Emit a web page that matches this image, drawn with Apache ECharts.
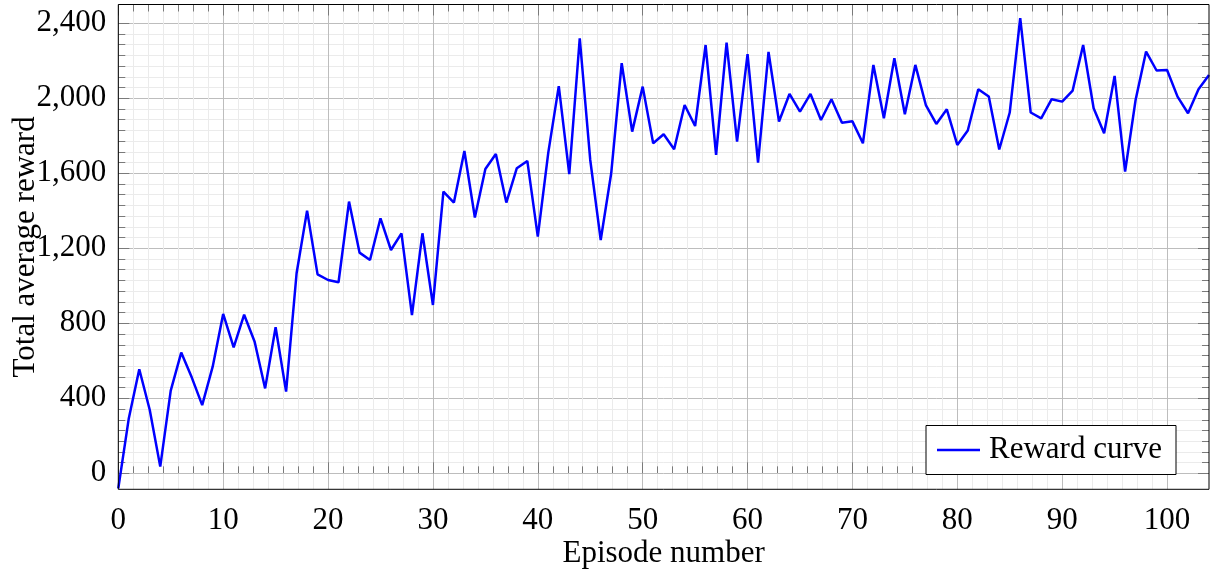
<!DOCTYPE html>
<html>
<head>
<meta charset="utf-8">
<script src="https://cdn.jsdelivr.net/npm/echarts@6/dist/echarts.min.js"></script>
<style>
  html, body { margin: 0; padding: 0; background: #fff; }
  #chart { width: 1211px; height: 571px; }
</style>
</head>
<body>
<div id="chart"></div>
<script>
// ---- data ----
const seriesName = 'Reward curve';
const xAxisTitle = 'Episode number';
const yAxisTitle = 'Total average reward';
// reward for episode 0, 1, 2, ... 104
const rewards = [
  -80, 293, 555, 338, 36, 441, 644, 512, 364, 569,
  850, 672, 846, 702, 453, 779, 436, 1067, 1401, 1061,
  1031, 1019, 1449, 1177, 1138, 1360, 1191, 1280, 844, 1280,
  898, 1502, 1444, 1719, 1364, 1623, 1703, 1444, 1627, 1666,
  1262, 1710, 2065, 1596, 2320, 1671, 1244, 1600, 2187, 1822,
  2062, 1760, 1808, 1728, 1964, 1852, 2284, 1698, 2297, 1769,
  2235, 1657, 2247, 1876, 2023, 1929, 2023, 1884, 1995, 1870,
  1877, 1760, 2178, 1893, 2213, 1915, 2178, 1964, 1863, 1941,
  1751, 1828, 2048, 2009, 1727, 1924, 2427, 1924, 1893, 1995,
  1982, 2041, 2284, 1947, 1813, 2119, 1609, 1991, 2249, 2148,
  2151, 2009, 1920, 2048, 2124
];
const episodes = rewards.map((_, i) => i);
// axis ranges and ticks
const xRange = [0, 104];
const yRange = [-85, 2500];
const xTicks = [0, 100, 10];     // first, last, step
const yTicks = [0, 2400, 400];

// ---- layout ----
const W = 1211, H = 571;
const P = { left: 118.3, top: 4.5, right: 1209, bottom: 489.3 };
const pw = P.right - P.left, ph = P.bottom - P.top;
const FONT = 'Liberation Serif';
const FS = 31;

// grid for vertical grid lines / x ticks
const gx = {
  left: P.left + pw * (xTicks[0] - xRange[0]) / (xRange[1] - xRange[0]),
  width: pw * (xTicks[1] - xTicks[0]) / (xRange[1] - xRange[0]),
  top: P.top, bottom: H - P.bottom
};
// grid for horizontal grid lines / y ticks
const gy = {
  left: P.left, right: W - P.right,
  top: P.top + ph * (yRange[1] - yTicks[1]) / (yRange[1] - yRange[0]),
  bottom: (H - P.bottom) + ph * (yTicks[0] - yRange[0]) / (yRange[1] - yRange[0])
};

const tickColor = '#7a7a7a';
const majorGrid = '#bdbdbd';
const minorGrid = '#ebebeb';

function hiddenAxis(extra) {
  return Object.assign({
    type: 'value',
    axisLine: { show: false }, axisTick: { show: false },
    axisLabel: { show: false }, splitLine: { show: false }
  }, extra);
}
function tickAxis(extra, labels, grid) {
  return Object.assign({
    type: 'value',
    axisLine: { show: false },
    axisTick: { show: true, inside: true, length: 11, lineStyle: { color: tickColor, width: 1 } },
    minorTick: { show: true, splitNumber: 7, length: 7, lineStyle: { color: tickColor, width: 1 } },
    axisLabel: labels,
    splitLine: { show: grid, lineStyle: { color: majorGrid, width: 1 } },
    minorSplitLine: { show: grid, lineStyle: { color: minorGrid, width: 1 } }
  }, extra);
}
const gridCommon = { containLabel: false, outerBoundsMode: 'none' };

const option = {
  animation: false,
  backgroundColor: '#fff',
  grid: [
    Object.assign({ left: P.left, top: P.top, right: W - P.right, bottom: H - P.bottom,
      show: true, borderColor: '#000', borderWidth: 1, backgroundColor: 'transparent', z: 10 }, gridCommon),
    Object.assign({ left: gx.left, width: gx.width, top: gx.top, bottom: gx.bottom }, gridCommon),
    Object.assign({ left: gy.left, right: gy.right, top: gy.top, bottom: gy.bottom }, gridCommon)
  ],
  xAxis: [
    hiddenAxis({ gridIndex: 0, min: xRange[0], max: xRange[1],
      name: xAxisTitle, nameLocation: 'middle', nameGap: 49,
      nameTextStyle: { fontFamily: FONT, fontSize: FS, color: '#000' } }),
    tickAxis({ gridIndex: 1, position: 'bottom', min: xTicks[0], max: xTicks[1], interval: xTicks[2] },
      { show: true, margin: 16, fontFamily: FONT, fontSize: FS, color: '#000' }, true),
    tickAxis({ gridIndex: 1, position: 'top', min: xTicks[0], max: xTicks[1], interval: xTicks[2] },
      { show: false }, false),
    hiddenAxis({ gridIndex: 2, min: xRange[0], max: xRange[1] })
  ],
  yAxis: [
    hiddenAxis({ gridIndex: 0, min: yRange[0], max: yRange[1],
      name: yAxisTitle, nameLocation: 'middle', nameGap: 77,
      nameTextStyle: { fontFamily: FONT, fontSize: FS, color: '#000' } }),
    tickAxis({ gridIndex: 2, position: 'left', min: yTicks[0], max: yTicks[1], interval: yTicks[2] },
      { show: true, margin: 12, fontFamily: FONT, fontSize: FS, color: '#000',
        formatter: v => v.toLocaleString('en-US') }, true),
    tickAxis({ gridIndex: 2, position: 'right', min: yTicks[0], max: yTicks[1], interval: yTicks[2] },
      { show: false }, false),
    hiddenAxis({ gridIndex: 1, min: yRange[0], max: yRange[1] })
  ],
  legend: {
    data: [{ name: seriesName, icon: 'rect' }],
    right: W - 1176, bottom: H - 474.5,
    orient: 'horizontal',
    backgroundColor: '#fff',
    borderColor: '#000', borderWidth: 1, borderRadius: 0,
    padding: [9, 14, 9, 11],
    itemWidth: 43, itemHeight: 2.5,
    itemStyle: { color: '#0000ff', borderWidth: 0 },
    textStyle: { fontFamily: FONT, fontSize: FS, color: '#000', padding: [0, 0, 0, 4], lineHeight: 31 },
    z: 12
  },
  series: [{
    name: seriesName,
    type: 'line',
    xAxisIndex: 0, yAxisIndex: 0,
    data: episodes.map((e, i) => [e, rewards[i]]),
    symbol: 'none',
    showSymbol: false,
    lineStyle: { color: '#0000ff', width: 2.5 },
    itemStyle: { color: '#0000ff' },
    z: 5
  }]
};

const chart = echarts.init(document.getElementById('chart'), null, { renderer: 'canvas' });
chart.setOption(option);
</script>
</body>
</html>
